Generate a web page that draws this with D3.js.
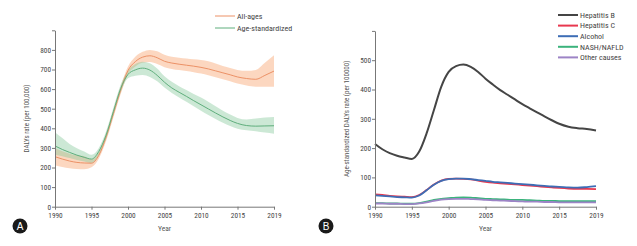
<!DOCTYPE html>
<html>
<head>
<meta charset="utf-8">
<script src="https://cdn.jsdelivr.net/npm/d3@7"></script>
<style>
  body { margin: 0; background: #fff; }
  svg { display: block; }
  text { font-family: "Liberation Sans Narrow", "Arial Narrow", "Roboto Condensed", "Liberation Sans", sans-serif; fill: #555; }
  .axis path, .axis line { stroke: #777; }
</style>
</head>
<body>
<svg id="chart" width="637" height="246"></svg>
<script>
// years shared by both panels
var years = [1990,1991,1992,1993,1994,1995,1996,1997,1998,1999,2000,2001,2002,2003,2004,
             2005,2006,2007,2008,2009,2010,2011,2012,2013,2014,2015,2016,2017,2018,2019];
var xTicks = [1990, 1995, 2000, 2005, 2010, 2015, 2019];

// Panel A: all-ages and age-standardized DALYs rate with uncertainty
var allAges   = [255,243,233,226,223,222,262,355,475,595,695,740,763,770,760,742,733,727,722,717,711,703,693,683,673,662,654,650,670,692];
var allAgesLo = [212,203,196,192,191,201,245,335,455,575,675,715,735,738,728,712,703,697,692,686,679,671,661,650,640,628,618,612,612,612];
var allAgesHi = [298,283,270,262,257,242,280,375,495,615,715,765,790,800,793,775,765,760,756,752,748,742,730,718,708,698,693,698,735,773];
var ageStd    = [310,292,277,263,252,243,282,365,485,603,675,698,707,697,670,635,606,584,563,541,520,499,478,458,440,425,414,411,412,413];
var ageStdLo  = [265,258,248,238,230,222,262,345,465,583,655,668,672,662,640,608,580,557,535,512,490,468,448,428,412,398,390,385,378,372];
var ageStdHi  = [380,350,320,298,282,265,300,385,505,623,695,728,740,732,705,665,637,615,595,575,557,535,512,490,470,453,445,450,455,458];
var yTicksA = [0,100,200,300,400,500,600,700,800,900];

// Panel B: age-standardized DALYs rate by cause
var causes = ["Hepatitis B", "Hepatitis C", "Alcohol", "NASH/NAFLD", "Other causes"];
var causeColors = ["#454545", "#e8384f", "#3d6db5", "#3bb37c", "#9d84c6"];
var hepB    = [214,196,183,174,168,163,188,250,330,410,460,480,485,477,460,437,417,398,382,366,350,336,322,308,295,283,273,268,265,260];
var hepC    = [42,40,37,35,34,33,40,57,76,89,95,96,95,93,89,85,82,80,78,76,74,72,70,68,66,64,62,61,61,60];
var alcohol = [39,37,35,33,32,31,38,56,75,88,94,96,96,94,91,88,85,83,81,79,77,75,73,71,69,68,66,65,67,70];
var nash    = [12,12,11,11,10,10,12,17,23,27,29,31,32,31,29,27,26,25,24,23,23,22,21,20,20,19,19,19,19,19];
var other   = [11,11,10,10,9,9,11,15,20,24,26,27,27,26,25,23,22,21,20,19,18,17,17,16,16,15,15,15,15,15];
var causeSeries = [hepB, hepC, alcohol, nash, other];
var yTicksB = [0,100,200,300,400,500,600];

var svg = d3.select("#chart");

// x scale: the last tick (2019) sits one 5-year step after 2015
function makeX(x0, x1) {
  var step = (x1 - x0) / 6;
  return d3.scaleLinear().domain([1990, 2015, 2019]).range([x0, x0 + 5 * step, x1]);
}

function drawAxes(g, x, y, yTicks, yTitle, titleX) {
  var bottom = y.range()[0];
  g.append("g")
      .attr("class", "axis")
      .attr("transform", `translate(0,${bottom})`)
      .call(d3.axisBottom(x).tickValues(xTicks).tickFormat(d3.format("d")).tickSize(3).tickSizeOuter(0))
      .call(s => s.selectAll("text").attr("y", 5).attr("dy", "0.8em").style("font-size", "7.3px").style("fill", "#444"));
  g.append("g")
      .attr("class", "axis")
      .attr("transform", `translate(${x.range()[0]},0)`)
      .call(d3.axisLeft(y).tickValues(yTicks).tickSize(3).tickSizeOuter(0)
              .tickFormat(d => d === yTicks[yTicks.length - 1] ? "" : d))
      .call(s => s.selectAll("text").attr("x", -4).style("font-size", "7.3px").style("fill", "#444"));
  g.selectAll(".axis .domain").attr("stroke", "#777");

  g.append("text")
      .attr("x", (x.range()[0] + x.range()[2]) / 2)
      .attr("y", bottom + 24)
      .attr("text-anchor", "middle")
      .style("font-size", "7.5px")
      .text("Year");
  g.append("text")
      .attr("transform", `translate(${titleX},${(bottom + y.range()[1]) / 2}) rotate(-90)`)
      .attr("text-anchor", "middle")
      .style("font-size", "7px")
      .text(yTitle);
}

function badge(cx, cy, letter) {
  svg.append("circle").attr("cx", cx).attr("cy", cy).attr("r", 7.5).attr("fill", "#1a1a1a");
  svg.append("text").attr("x", cx).attr("y", cy).attr("dy", "0.36em")
      .attr("text-anchor", "middle")
      .style("font-size", "10px").style("font-family", "Liberation Sans, sans-serif")
      .style("fill", "#fff")
      .text(letter);
}

// ---------- Panel A ----------
var xA = makeX(55, 274);
var yA = d3.scaleLinear().domain([0, 900]).range([206.7, 30.3]);
var gA = svg.append("g");

var bandsA = [
  {lo: allAgesLo, hi: allAgesHi, fill: "#f7a06a"},
  {lo: ageStdLo, hi: ageStdHi, fill: "#86c99c"}
];
var linesA = [
  {v: allAges, stroke: "#ec9166", name: "All-ages"},
  {v: ageStd, stroke: "#5fae7c", name: "Age-standardized"}
];

bandsA.forEach(function(b) {
  gA.append("path")
      .datum(years)
      .attr("fill", b.fill)
      .attr("fill-opacity", 0.42)
      .attr("d", d3.area()
        .curve(d3.curveMonotoneX)
        .x(d => xA(d))
        .y0((d, i) => yA(b.lo[i]))
        .y1((d, i) => yA(b.hi[i])));
});
linesA.forEach(function(l) {
  gA.append("path")
      .datum(years)
      .attr("fill", "none")
      .attr("stroke", l.stroke)
      .attr("stroke-width", 1)
      .attr("d", d3.line().curve(d3.curveMonotoneX).x(d => xA(d)).y((d, i) => yA(l.v[i])));
});
drawAxes(gA, xA, yA, yTicksA, "DALYs rate (per 100,000)", 29);

// legend A
linesA.forEach(function(l, i) {
  var ly = 16 + i * 12;
  gA.append("line").attr("x1", 215).attr("x2", 235).attr("y1", ly).attr("y2", ly)
      .attr("stroke", l.stroke).attr("stroke-width", 1);
  gA.append("text").attr("x", 237).attr("y", ly).attr("dy", "0.35em")
      .style("font-size", "8px").style("fill", "#444").text(l.name);
});
badge(20, 226, "A");

// ---------- Panel B ----------
var xB = makeX(375, 596);
var yB = d3.scaleLinear().domain([0, 600]).range([206.7, 30.9]);
var gB = svg.append("g");

causeSeries.forEach(function(s, k) {
  gB.append("path")
      .datum(years)
      .attr("fill", "none")
      .attr("stroke", causeColors[k])
      .attr("stroke-width", k === 0 ? 2 : 1.8)
      .attr("d", d3.line().curve(d3.curveMonotoneX).x(d => xB(d)).y((d, i) => yB(s[i])));
});
drawAxes(gB, xB, yB, yTicksB, "Age-standardized DALYs rate (per 100000)", 349);

causes.forEach(function(c, i) {
  var ly = 15 + i * 10.6;
  gB.append("line").attr("x1", 558).attr("x2", 578).attr("y1", ly).attr("y2", ly)
      .attr("stroke", causeColors[i]).attr("stroke-width", 2);
  gB.append("text").attr("x", 580).attr("y", ly).attr("dy", "0.35em")
      .style("font-size", "8px").style("fill", "#444").text(c);
});
badge(326, 226, "B");
</script>
</body>
</html>
